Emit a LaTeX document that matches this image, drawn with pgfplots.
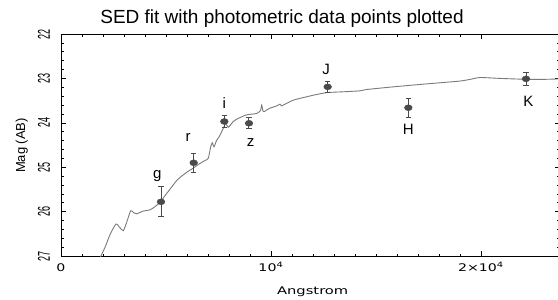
\documentclass[border=0pt]{standalone}
\usepackage{pgfplots}
\pgfplotsset{compat=1.18}
\usepackage{fontspec}
\setmainfont{Liberation Sans}
\newfontfamily\dejavu{DejaVu Sans}
\definecolor{curve}{HTML}{7A7A7A}
\definecolor{pts}{HTML}{4A4A4A}
\newcommand\xl[1]{\scalebox{1.35}[1]{\dejavu\fontsize{10.5}{12}\selectfont #1}}
\newcommand\yl[1]{\scalebox{1}[1.9]{\fontsize{9}{10}\selectfont #1}}
\begin{document}
\begin{tikzpicture}
\path[use as bounding box] (0,0) rectangle (558pt,300pt);
\clip (0,0) rectangle (558pt,300pt);
\begin{axis}[
  at={(61pt,44pt)}, anchor=south west, scale only axis,
  width=498.96pt, height=222pt,
  xmin=0, xmax=23760, ymin=22, ymax=27, y dir=reverse,
  xtick={0,10000,20000},
  xticklabels={\xl{0},\xl{10\textsuperscript{4}},\xl{2×10\textsuperscript{4}}},
  minor x tick num=9,
  ytick={22,23,24,25,26,27},
  yticklabels={\yl{22},\yl{23},\yl{24},\yl{25},\yl{26},\yl{27}},
  minor y tick num=4,
  major tick length=5pt, minor tick length=2.5pt,
  tick style={black, line width=0.6pt},
  axis line style={line width=0.8pt},
  xticklabel style={anchor=base, yshift=-15pt},
  yticklabel style={xshift=-11pt, rotate=90, anchor=base},
  scaled x ticks=false,
]
\addplot[curve, line width=0.9pt, no marks, smooth, tension=0.35] coordinates {
(1800,27.10) (2100,26.80) (2350,26.50) (2619,26.28) (2800,26.36) (2967,26.43)
(3120,26.25) (3317,25.98) (3450,26.02) (3603,26.05) (3900,25.99) (4238,25.96)
(4500,25.88) (4762,25.76) (5100,25.55) (5508,25.30) (5667,25.23) (6000,25.11)
(6300,25.02) (6600,24.92) (6857,24.85) (7014,24.80) (7129,24.54) (7205,24.45)
(7286,24.54) (7414,24.39) (7538,24.31) (7652,24.20) (7762,24.09) (7843,24.01)
(7967,24.10) (8205,23.97) (8443,23.90) (8843,23.82) (9319,23.79) (9500,23.72)
(9557,23.60) (9620,23.74) (9667,23.75) (9952,23.67) (10271,23.62) (10429,23.58)
(10500,23.62) (10586,23.60) (11062,23.49) (11381,23.45) (12000,23.38) (12651,23.32)
(13500,23.30) (14238,23.28) (14556,23.25) (15825,23.19) (17000,23.14) (18000,23.10)
(19000,23.06) (19500,23.02) (19952,22.98) (20905,23.00) (22143,23.02) (23127,23.02)
(23800,23.01)
};
\addplot[only marks, mark=*, mark size=3pt, color=pts,
  mark options={xscale=1.3, fill=pts, draw=pts},
  error bars/.cd, y dir=both, y explicit,
  error bar style={line width=1pt, pts},
  error mark options={rotate=90, mark size=2.6pt, line width=1pt, pts}]
coordinates {
(4762,25.78) +- (0,0.34)
(6317,24.90) +- (0,0.21)
(7778,23.97) +- (0,0.14)
(8952,24.01) +- (0,0.12)
(12698,23.19) +- (0,0.12)
(16540,23.66) +- (0,0.21)
(22143,23.01) +- (0,0.14)
};
\begin{scope}[font=\fontsize{15}{18}\selectfont]
\node at (axis cs:4586,25.21) {g};
\node at (axis cs:6052,24.34) {r};
\node at (axis cs:7776,23.56) {i};
\node at (axis cs:9033,24.44) {z};
\node at (axis cs:12619,22.80) {J};
\node at (axis cs:16538,24.14) {H};
\node at (axis cs:22252,23.52) {K};
\end{scope}
\end{axis}
\node[anchor=base, font=\fontsize{19}{22}\selectfont] at (282pt,276pt) {SED fit with photometric data points plotted};
\node[rotate=90, anchor=base, font=\fontsize{13}{15}\selectfont] at (25pt,154.5pt) {Mag (AB)};
\node[anchor=base] at (312.7pt,5.7pt) {\scalebox{1.4}[1]{\dejavu\fontsize{10.5}{12}\selectfont Angstrom}};
\end{tikzpicture}
\end{document}
